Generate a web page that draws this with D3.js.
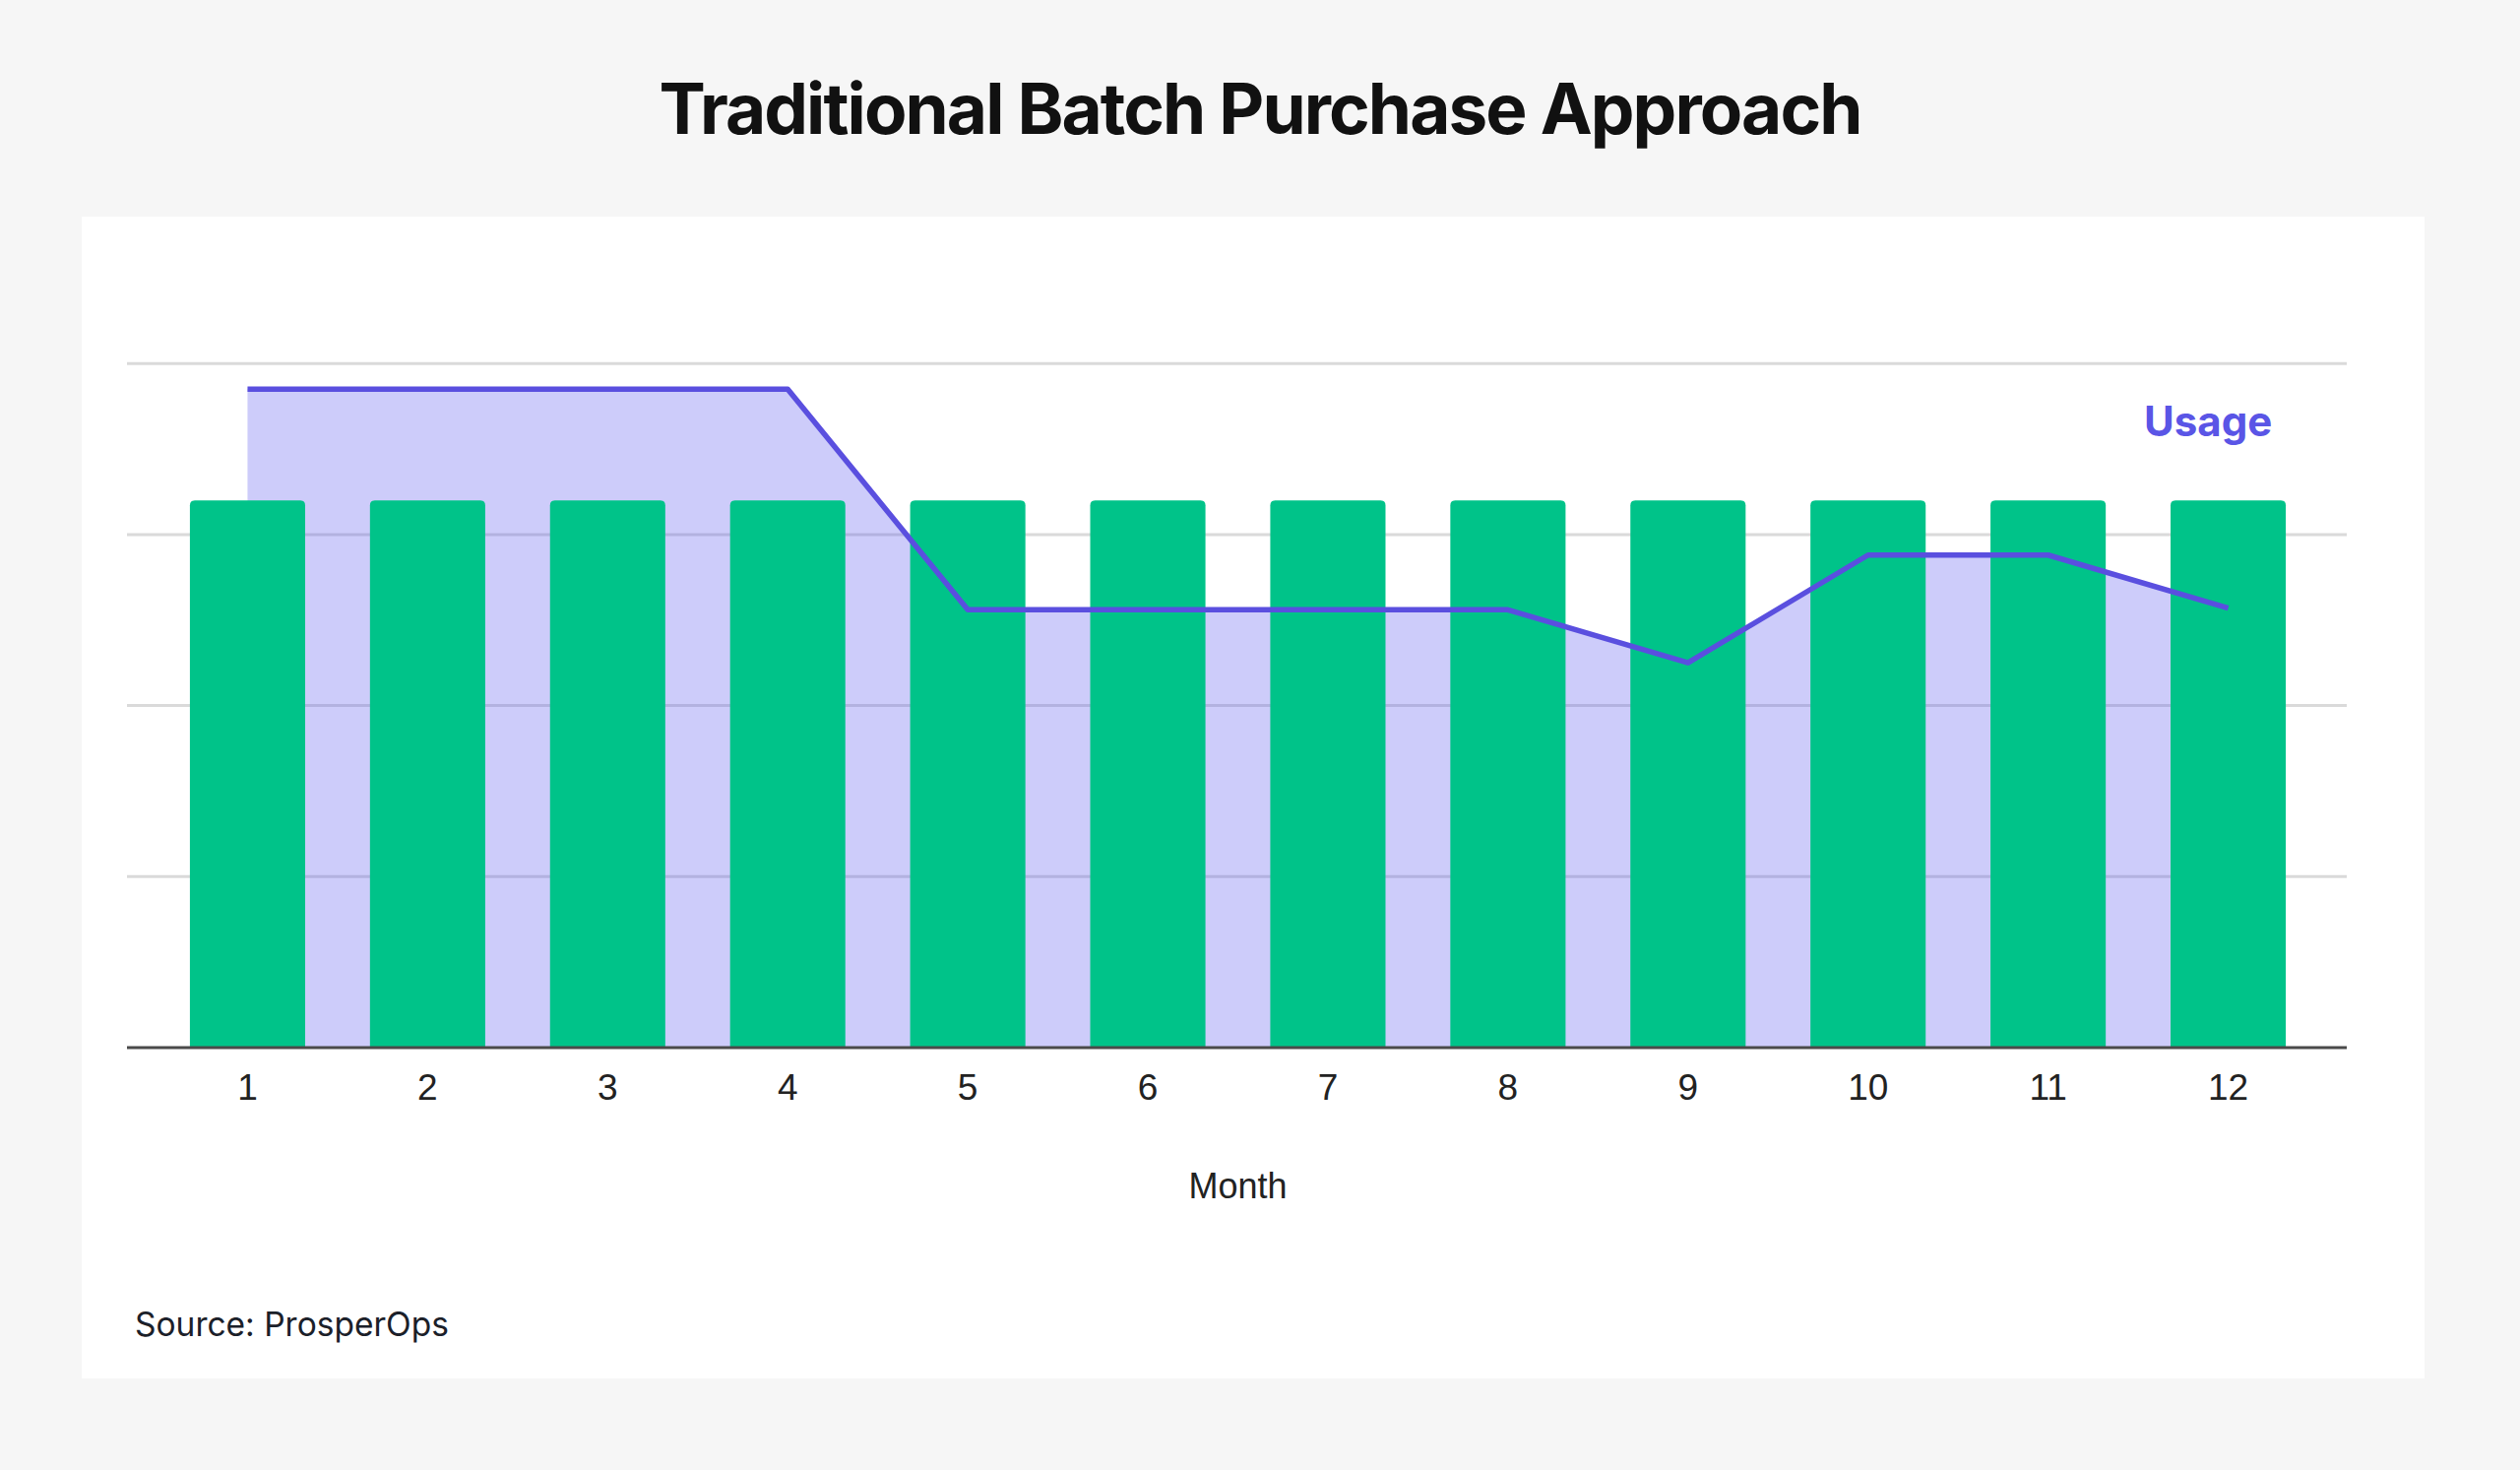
<!DOCTYPE html>
<html>
<head>
<meta charset="utf-8">
<script src="https://cdn.jsdelivr.net/npm/d3@7"></script>
<style>
  html, body { margin: 0; padding: 0; background: #f6f6f6; }
  svg { display: block; }
</style>
</head>
<body>
<svg id="chart" width="2560" height="1493"></svg>
<script>
// ---- data ----
const months = ["1","2","3","4","5","6","7","8","9","10","11","12"];
const commitment = [3.2,3.2,3.2,3.2,3.2,3.2,3.2,3.2,3.2,3.2,3.2,3.2];
const usage = [3.85,3.85,3.85,3.85,2.56,2.56,2.56,2.56,2.25,2.88,2.88,2.57];
const gridValues = [1,2,3,4];
const titleText = "Traditional Batch Purchase Approach";
const xAxisTitle = "Month";
const seriesLabel = "Usage";
const sourceText = "Source: ProsperOps";

const svg = d3.select("#chart");

// page background + panel
svg.append("rect").attr("x",0).attr("y",0).attr("width",2560).attr("height",1493).attr("fill","#f6f6f6");
svg.append("rect").attr("x",83).attr("y",220).attr("width",2380).attr("height",1180).attr("fill","#ffffff");

// title
svg.append("text")
  .attr("x",1280).attr("y",136)
  .attr("text-anchor","middle")
  .attr("font-family","Inter, 'Noto Sans', sans-serif")
  .attr("font-weight",700)
  .attr("font-size",71)
  .attr("letter-spacing",-1.9)
  .attr("fill","#111111")
  .text(titleText);

// scales
const x = d3.scaleBand().domain(months).range([160,2355]).paddingInner(0.36).paddingOuter(0.18);
const y = d3.scaleLinear().domain([0,4]).range([1064,369.2]);
const cx = d => x(d) + x.bandwidth()/2;

// gridlines
svg.append("g").selectAll("line").data(gridValues).join("line")
  .attr("x1",129).attr("x2",2384)
  .attr("y1",d=>y(d)).attr("y2",d=>y(d))
  .attr("stroke","#dadada").attr("stroke-width",3);

// usage area
const area = d3.area().x((d,i)=>cx(months[i])).y0(y(0)).y1(d=>y(d));
svg.append("path").datum(usage).attr("d",area)
  .attr("fill","#5b57f0").attr("fill-opacity",0.3);

// bars (rounded top corners only)
svg.append("g").selectAll("path").data(commitment).join("path")
  .attr("d",(d,i)=>{
    const x0 = x(months[i]), w = x.bandwidth(), y0 = y(d), yb = y(0), r = 5;
    return `M${x0},${yb}V${y0+r}Q${x0},${y0} ${x0+r},${y0}H${x0+w-r}Q${x0+w},${y0} ${x0+w},${y0+r}V${yb}Z`;
  })
  .attr("fill","#00c389");

// usage line
const line = d3.line().x((d,i)=>cx(months[i])).y(d=>y(d));
svg.append("path").datum(usage).attr("d",line)
  .attr("fill","none").attr("stroke","#5a4fdf").attr("stroke-width",5.5)
  .attr("stroke-linejoin","round");

// x axis
const xAxis = d3.axisBottom(x).tickSize(0).tickPadding(0);
const gx = svg.append("g").attr("transform",`translate(0,${y(0)})`).call(xAxis);
gx.select(".domain").remove();
gx.selectAll("text")
  .attr("y",53)
  .attr("dy",0)
  .attr("font-family","'Liberation Sans', Arial, sans-serif")
  .attr("font-size",37)
  .attr("fill","#222222");
svg.append("line")
  .attr("x1",129).attr("x2",2384).attr("y1",y(0)).attr("y2",y(0))
  .attr("stroke","#4a4a4a").attr("stroke-width",3);

// axis title
svg.append("text")
  .attr("x",(x.range()[0]+x.range()[1])/2).attr("y",1217)
  .attr("text-anchor","middle")
  .attr("font-family","'Liberation Sans', Arial, sans-serif")
  .attr("font-size",36)
  .attr("fill","#222222")
  .text(xAxisTitle);

// series label
svg.append("text")
  .attr("x",2178).attr("y",443)
  .attr("font-family","Inter, 'Noto Sans', sans-serif")
  .attr("font-weight",700)
  .attr("font-size",42)
  .attr("fill","#5a55e6")
  .text(seriesLabel);

// source
svg.append("text")
  .attr("x",137).attr("y",1357)
  .attr("font-family","Inter, 'Noto Sans', sans-serif")
  .attr("font-size",33.5)
  .attr("fill","#1b2029")
  .text(sourceText);
</script>
</body>
</html>
